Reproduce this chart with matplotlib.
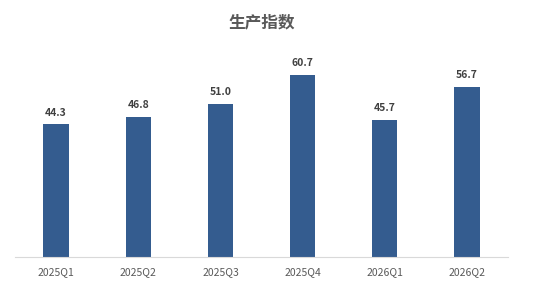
import matplotlib
matplotlib.use('Agg')
import matplotlib.pyplot as plt

plt.rcParams['font.family'] = ['Noto Sans CJK SC', 'DejaVu Sans']

# data
quarters = ['2025Q1', '2025Q2', '2025Q3', '2025Q4', '2026Q1', '2026Q2']
values = [44.3, 46.8, 51.0, 60.7, 45.7, 56.7]
title = '生产指数'

fig = plt.figure(figsize=(5.48, 2.89), dpi=100)
ax = fig.add_axes([0.0274, 0.1107, 0.8996, 0.7263])

bars = ax.bar(range(len(quarters)), values, width=0.31, color='#345C8F', zorder=2)
for b, v in zip(bars, values):
    ax.text(b.get_x() + b.get_width() / 2, v + 2.2, f'{v:.1f}',
            ha='center', va='bottom', fontsize=7.5, fontweight='bold', color='#404040')

ax.set_xlim(-0.5, len(quarters) - 0.5)
ax.set_ylim(0, 70)
ax.set_xticks(range(len(quarters)))
ax.set_xticklabels(quarters, fontsize=7.5, color='#595959')
ax.tick_params(axis='x', length=0, pad=7)
ax.set_yticks([])
for s in ['top', 'right', 'left']:
    ax.spines[s].set_visible(False)
ax.spines['bottom'].set_color('#D9D9D9')

fig.text(0.477, 0.922, title, ha='center', va='center', fontsize=12,
         fontweight='semibold', color='#595959')

fig.savefig('out.png', dpi=100)
